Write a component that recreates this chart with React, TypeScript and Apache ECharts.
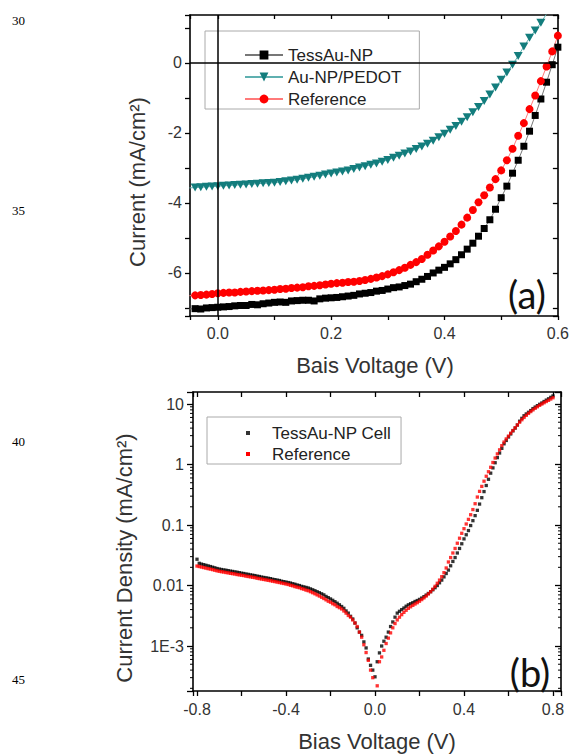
import React, { useEffect, useRef } from "react";
import * as echarts from "echarts";

// ---------- Panel (a): J–V curves ----------
const voltageA = [
  -0.05, -0.04, -0.03, -0.02, -0.01, 0.0, 0.01, 0.02, 0.03, 0.04, 0.05, 0.06, 0.07, 0.08, 0.09, 0.1,
  0.11, 0.12, 0.13, 0.14, 0.15, 0.16, 0.17, 0.18, 0.19, 0.2, 0.21, 0.22, 0.23, 0.24, 0.25, 0.26,
  0.27, 0.28, 0.29, 0.3, 0.31, 0.32, 0.33, 0.34, 0.35, 0.36, 0.37, 0.38, 0.39, 0.4, 0.41, 0.42,
  0.43, 0.44, 0.45, 0.46, 0.47, 0.48, 0.49, 0.5, 0.51, 0.52, 0.53, 0.54, 0.55, 0.56, 0.57, 0.58,
  0.59, 0.6,
];
const tessAuA = [
  -7.03, -7.02, -7.03, -7.0, -6.99, -6.98, -6.97, -6.96, -6.94, -6.93, -6.93, -6.9, -6.91, -6.88, -6.86, -6.84,
  -6.83, -6.84, -6.8, -6.79, -6.78, -6.78, -6.8, -6.74, -6.72, -6.71, -6.7, -6.68, -6.66, -6.64, -6.6, -6.58,
  -6.56, -6.52, -6.5, -6.46, -6.42, -6.4, -6.36, -6.32, -6.25, -6.18, -6.1, -6.0, -5.92, -5.84, -5.74, -5.62,
  -5.48, -5.32, -5.15, -4.95, -4.73, -4.48, -4.18, -3.85, -3.52, -3.15, -2.78, -2.38, -1.95, -1.5, -1.03, -0.55,
  -0.05, 0.45,
];
const auNpPedotA = [
  -3.57, -3.56, -3.55, -3.54, -3.53, -3.52, -3.51, -3.5, -3.49, -3.48, -3.47, -3.46, -3.45, -3.44, -3.43, -3.42,
  -3.4, -3.38, -3.36, -3.34, -3.31, -3.28, -3.25, -3.22, -3.19, -3.16, -3.13, -3.1, -3.07, -3.03, -2.99, -2.95,
  -2.91, -2.87, -2.82, -2.77, -2.71, -2.65, -2.59, -2.53, -2.46, -2.39, -2.31, -2.22, -2.12, -2.02, -1.91, -1.8,
  -1.68, -1.55, -1.41, -1.26, -1.09, -0.9, -0.7, -0.48, -0.27, -0.05, 0.2, 0.47, 0.72, 0.93, 1.15, 1.4,
  null, null,
];
const referenceA = [
  -6.65, -6.64, -6.63, -6.62, -6.6, -6.58, -6.57, -6.56, -6.56, -6.54, -6.53, -6.52, -6.51, -6.5, -6.49, -6.48,
  -6.46, -6.45, -6.43, -6.42, -6.41, -6.38, -6.37, -6.35, -6.33, -6.31, -6.29, -6.28, -6.26, -6.25, -6.23, -6.2,
  -6.17, -6.13, -6.09, -6.04, -5.98, -5.92, -5.85, -5.77, -5.69, -5.6, -5.48, -5.36, -5.24, -5.11, -4.96, -4.8,
  -4.62, -4.42, -4.2, -3.98, -3.78, -3.56, -3.32, -3.07, -2.78, -2.45, -2.08, -1.72, -1.32, -0.93, -0.52, -0.1,
  0.33, 0.78,
];

// ---------- Panel (b): log |J| vs V ----------
const voltageB = [
  -0.8, -0.79, -0.78, -0.77, -0.76, -0.75, -0.74, -0.73, -0.72, -0.71, -0.7, -0.69, -0.68, -0.67, -0.66, -0.65,
  -0.64, -0.63, -0.62, -0.61, -0.6, -0.59, -0.58, -0.57, -0.56, -0.55, -0.54, -0.53, -0.52, -0.51, -0.5, -0.49,
  -0.48, -0.47, -0.46, -0.45, -0.44, -0.43, -0.42, -0.41, -0.4, -0.39, -0.38, -0.37, -0.36, -0.35, -0.34, -0.33,
  -0.32, -0.31, -0.3, -0.29, -0.28, -0.27, -0.26, -0.25, -0.24, -0.23, -0.22, -0.21, -0.2, -0.19, -0.18, -0.17,
  -0.16, -0.15, -0.14, -0.13, -0.12, -0.11, -0.1, -0.09, -0.08, -0.07, -0.06, -0.05, -0.04, -0.03, -0.02, -0.01,
  0.0,
  0.01, 0.02, 0.03, 0.04, 0.05, 0.06, 0.07, 0.08, 0.09, 0.1, 0.11, 0.12, 0.13, 0.14, 0.15, 0.16,
  0.17, 0.18, 0.19, 0.2, 0.21, 0.22, 0.23, 0.24, 0.25, 0.26, 0.27, 0.28, 0.29, 0.3, 0.31, 0.32,
  0.33, 0.34, 0.35, 0.36, 0.37, 0.38, 0.39, 0.4, 0.41, 0.42, 0.43, 0.44, 0.45, 0.46, 0.47, 0.48,
  0.49, 0.5, 0.51, 0.52, 0.53, 0.54, 0.55, 0.56, 0.57, 0.58, 0.59, 0.6, 0.61, 0.62, 0.63, 0.64,
  0.65, 0.66, 0.67, 0.68, 0.69, 0.7, 0.71, 0.72, 0.73, 0.74, 0.75, 0.76, 0.77, 0.78, 0.79, 0.8,
];
const tessAuCellB = [
  0.0272, 0.0233, 0.0226, 0.0221, 0.0216, 0.0211, 0.0206, 0.0201, 0.0196, 0.0191, 0.0187, 0.0184, 0.0181, 0.0179, 0.0176, 0.0173,
  0.0171, 0.0168, 0.0166, 0.0163, 0.016, 0.0158, 0.0155, 0.0153, 0.015, 0.0148, 0.0146, 0.0143, 0.0141, 0.0138, 0.0136, 0.0134,
  0.0132, 0.013, 0.0127, 0.0125, 0.0123, 0.0121, 0.0118, 0.0116, 0.0114, 0.0112, 0.011, 0.0107, 0.0105, 0.0102, 0.01, 0.0097,
  0.0095, 0.0093, 0.0091, 0.0088, 0.0085, 0.0082, 0.0079, 0.0076, 0.0073, 0.007, 0.0066, 0.0063, 0.006, 0.0057, 0.0054, 0.0051,
  0.0048, 0.0045, 0.0042, 0.0038, 0.0035, 0.0031, 0.0028, 0.0024, 0.002, 0.0017, 0.0015, 0.00117, 0.00093, 0.00061, 0.00048, 0.0004,
  0.00031,
  0.00055, 0.00077, 0.001, 0.0012, 0.0014, 0.0017, 0.0021, 0.0025, 0.003, 0.0035, 0.00375, 0.004, 0.00425, 0.00455, 0.0048, 0.005,
  0.0052, 0.00545, 0.00565, 0.0059, 0.0062, 0.00655, 0.00695, 0.0074, 0.0079, 0.0085, 0.0092, 0.01, 0.0111, 0.0123, 0.0139, 0.0158,
  0.018, 0.0212, 0.025, 0.029, 0.0345, 0.041, 0.049, 0.059, 0.069, 0.081, 0.098, 0.118, 0.143, 0.175, 0.222, 0.283,
  0.357, 0.45, 0.57, 0.72, 0.88, 1.07, 1.3, 1.55, 1.85, 2.2, 2.5, 2.85, 3.2, 3.6, 4.0, 4.5,
  5.2, 5.8, 6.4, 6.85, 7.3, 7.8, 8.4, 8.9, 9.4, 9.9, 10.4, 11.0, 11.6, 12.2, 12.9, 13.6,
];
const referenceB = [
  0.021, 0.0206, 0.0202, 0.0198, 0.0194, 0.019, 0.0187, 0.0183, 0.0179, 0.0175, 0.0172, 0.0169, 0.0167, 0.0164, 0.0162, 0.0159,
  0.0157, 0.0155, 0.0152, 0.015, 0.0148, 0.0146, 0.0143, 0.0141, 0.0139, 0.0137, 0.0135, 0.0132, 0.013, 0.0128, 0.0126, 0.0124,
  0.0122, 0.012, 0.0118, 0.0116, 0.0114, 0.0112, 0.011, 0.0108, 0.0106, 0.0104, 0.0101, 0.0099, 0.0096, 0.0094, 0.0092, 0.0089,
  0.0087, 0.0084, 0.0082, 0.0079, 0.0076, 0.0073, 0.007, 0.0067, 0.0064, 0.0061, 0.0058, 0.0055, 0.0053, 0.005, 0.0048, 0.0045,
  0.0043, 0.0041, 0.0038, 0.0035, 0.0032, 0.003, 0.0027, 0.0024, 0.0021, 0.0017, 0.0014, 0.00105, 0.00078, 0.00058, 0.0004, 0.0003,
  null,
  0.00022, 0.00055, 0.00066, 0.00085, 0.0011, 0.00135, 0.00165, 0.002, 0.00235, 0.0027, 0.003, 0.0033, 0.0036, 0.0039, 0.0042, 0.00445,
  0.0047, 0.00495, 0.0052, 0.0055, 0.00585, 0.00625, 0.0067, 0.00725, 0.0079, 0.0087, 0.0097, 0.0109, 0.0123, 0.014, 0.0163, 0.0195,
  0.0245, 0.029, 0.0345, 0.041, 0.05, 0.0605, 0.073, 0.087, 0.104, 0.124, 0.148, 0.18, 0.225, 0.29, 0.36, 0.435,
  0.53, 0.64, 0.76, 0.9, 1.08, 1.28, 1.5, 1.75, 2.05, 2.35, 2.65, 2.95, 3.3, 3.65, 4.05, 4.5,
  5.0, 5.5, 6.0, 6.5, 7.0, 7.5, 8.0, 8.5, 9.0, 9.5, 10.0, 10.5, 11.0, 11.5, 12.1, 12.7,
];
const logMinorTicks = [
  0.0002, 0.0003, 0.0004, 0.0005, 0.0006, 0.0007, 0.0008, 0.0009,
  0.002, 0.003, 0.004, 0.005, 0.006, 0.007, 0.008, 0.009,
  0.02, 0.03, 0.04, 0.05, 0.06, 0.07, 0.08, 0.09,
  0.2, 0.3, 0.4, 0.5, 0.6, 0.7, 0.8, 0.9,
  2, 3, 4, 5, 6, 7, 8, 9,
];
const logLabels: Record<string, string> = { "-3": "1E-3", "-2": "0.01", "-1": "0.1", "0": "1", "1": "10" };
const legendA = ["TessAu-NP", "Au-NP/PEDOT", "Reference"];
const legendB = ["TessAu-NP Cell", "Reference"];
const pageNumbers = ["30", "35", "40", "45"];

const X_MIN_A = -0.049, X_MAX_A = 0.6, Y_MIN_A = -7.23, Y_MAX_A = 1.37;
const X_MIN_B = -0.818, X_MAX_B = 0.836, Y_MIN_B = 1.806e-4, Y_MAX_B = 15.8;

const SANS = '"Liberation Sans", Arial, Helvetica, sans-serif';
const SERIF = '"Liberation Serif", "Times New Roman", serif';

function onGrid(v: number, step: number) {
  const k = Math.round(v / step);
  return Math.abs(v / step - k) < 1e-6 ? k : null;
}
const fmtXA = (v: number) => {
  const k = onGrid(v, 0.1);
  return k !== null && k % 2 === 0 ? (k / 10).toFixed(1) : "";
};
const fmtYA = (v: number) => {
  const k = onGrid(v, 1);
  return k !== null && k % 2 === 0 ? String(k) : "";
};
const fmtXB = (v: number) => {
  const k = onGrid(v, 0.1);
  return k !== null && k % 4 === 0 ? (k / 10).toFixed(1) : "";
};
const fmtYB = (v: number) => {
  const e = Math.log10(v);
  const r = Math.round(e);
  if (Math.abs(e - r) > 1e-6) return "";
  return logLabels[String(r)] ?? "";
};

function axisBase(opts: any) {
  return {
    splitLine: { show: false },
    axisLine: { show: true, onZero: false, lineStyle: { color: "#000", width: 1.6 } },
    ...opts,
  };
}

export default function App() {
  const ref = useRef<HTMLDivElement>(null);

  useEffect(() => {
    if (!ref.current) return;
    const chart = echarts.init(ref.current, undefined, { renderer: "svg" });

    const labelStyle = { color: "#333", fontSize: 16, fontFamily: SANS };
    const tickStyle = { color: "#000", width: 1.3 };

    const pairs = (xs: number[], ys: (number | null)[]) =>
      xs.map((x, i) => [x, ys[i]]);
    const pairsPos = (xs: number[], ys: (number | null)[]) =>
      xs.map((x, i) => [x, ys[i]]).filter((p) => p[1] !== null);

    const option: any = {
      animation: false,
      backgroundColor: "#fff",
      grid: [
        { left: 190, top: 15, width: 369, height: 301 },
        { left: 193, top: 392, width: 368, height: 299 },
      ],
      xAxis: [
        axisBase({
          gridIndex: 0, type: "value", min: X_MIN_A, max: X_MAX_A, splitNumber: 7, position: "bottom",
          axisTick: { show: true, inside: false, length: 4, lineStyle: tickStyle },
          axisLabel: { ...labelStyle, formatter: fmtXA, margin: 9 },
        }),
        axisBase({
          gridIndex: 0, type: "value", min: X_MIN_A, max: X_MAX_A, splitNumber: 7, position: "top",
          axisTick: { show: true, inside: true, length: 4, lineStyle: tickStyle },
          axisLabel: { show: false },
        }),
        axisBase({
          gridIndex: 1, type: "value", min: X_MIN_B, max: X_MAX_B, splitNumber: 8, position: "bottom",
          axisTick: { show: true, inside: false, length: 5, lineStyle: tickStyle },
          axisLabel: { ...labelStyle, formatter: fmtXB, margin: 10 },
        }),
        axisBase({
          gridIndex: 1, type: "value", min: X_MIN_B, max: X_MAX_B, splitNumber: 8, position: "top",
          axisTick: { show: true, inside: true, length: 5, lineStyle: tickStyle },
          axisLabel: { show: false },
        }),
      ],
      yAxis: [
        axisBase({
          gridIndex: 0, type: "value", min: Y_MIN_A, max: Y_MAX_A, splitNumber: 9, position: "left",
          axisTick: { show: true, inside: false, length: 5, lineStyle: tickStyle },
          axisLabel: { ...labelStyle, formatter: fmtYA, margin: 8 },
        }),
        axisBase({
          gridIndex: 0, type: "value", min: Y_MIN_A, max: Y_MAX_A, splitNumber: 9, position: "right",
          axisTick: { show: true, inside: true, length: 5, lineStyle: tickStyle },
          axisLabel: { show: false },
        }),
        axisBase({
          gridIndex: 1, type: "log", logBase: 10, min: Y_MIN_B, max: Y_MAX_B, position: "left",
          axisTick: { show: true, inside: false, length: 6, lineStyle: tickStyle },
          axisLabel: { ...labelStyle, formatter: fmtYB, margin: 9 },
        }),
        axisBase({
          gridIndex: 1, type: "log", logBase: 10, min: Y_MIN_B, max: Y_MAX_B, position: "right",
          axisTick: { show: true, inside: true, length: 6, lineStyle: tickStyle },
          axisLabel: { show: false },
        }),
      ],
      legend: [
        {
          data: legendA.map((n) => ({ name: n })),
          orient: "vertical", left: 205, top: 31,
          itemWidth: 38, itemHeight: 11, itemGap: 4,
          padding: [15, 18, 1, 39],
          backgroundColor: "#fff", borderColor: "#aaa", borderWidth: 1, borderRadius: 0,
          selectedMode: false,
          textStyle: { fontSize: 17, fontFamily: SANS, color: "#222", lineHeight: 18 },
        },
        {
          data: legendB.map((n, i) => ({
            name: n, icon: "rect",
            itemStyle: { color: i === 0 ? "#000" : "#f00", borderWidth: 0 },
          })),
          orient: "vertical", left: 207, top: 417,
          itemWidth: 4, itemHeight: 4, itemGap: 3,
          padding: [7, 10, 1, 39],
          backgroundColor: "#fff", borderColor: "#aaa", borderWidth: 1, borderRadius: 0,
          selectedMode: false,
          textStyle: { fontSize: 17, fontFamily: SANS, color: "#222", lineHeight: 18, padding: [0, 0, 0, 17] },
        },
      ],
      series: [
        {
          name: legendA[0], type: "line", xAxisIndex: 0, yAxisIndex: 0,
          data: pairs(voltageA, tessAuA),
          symbol: "rect", symbolSize: 7, showAllSymbol: true,
          itemStyle: { color: "#000" }, lineStyle: { color: "#777", width: 1 },
          markLine: {
            silent: true, symbol: ["none", "none"], label: { show: false },
            lineStyle: { color: "#000", width: 1.5, type: "solid" },
            data: [{ xAxis: 0 }, { yAxis: 0 }],
          },
        },
        {
          name: legendA[1], type: "line", xAxisIndex: 0, yAxisIndex: 0,
          data: pairs(voltageA, auNpPedotA),
          symbol: "path://M0,0 L10,0 L5,9 Z", symbolSize: [9, 8], showAllSymbol: true,
          itemStyle: { color: "#137d7d" }, lineStyle: { color: "#5fb0b0", width: 1 },
        },
        {
          name: legendA[2], type: "line", xAxisIndex: 0, yAxisIndex: 0,
          data: pairs(voltageA, referenceA),
          symbol: "circle", symbolSize: 8, showAllSymbol: true,
          itemStyle: { color: "#ff0000" }, lineStyle: { color: "#ff7a7a", width: 1 },
        },
        {
          name: legendB[0], type: "scatter", xAxisIndex: 2, yAxisIndex: 2,
          data: pairsPos(voltageB, tessAuCellB),
          symbol: "rect", symbolSize: 3.3, itemStyle: { color: "#000" },
        },
        {
          name: legendB[1], type: "scatter", xAxisIndex: 2, yAxisIndex: 2,
          data: pairsPos(voltageB, referenceB),
          symbol: "rect", symbolSize: 3.3, itemStyle: { color: "#ff0000" },
        },
        {
          type: "custom", xAxisIndex: 2, yAxisIndex: 2, silent: true, clip: false,
          data: logMinorTicks.map((v) => [X_MIN_B, v]),
          renderItem: (_p: any, api: any) => {
            const v = api.value(1);
            const l = api.coord([X_MIN_B, v]);
            const r = api.coord([X_MAX_B, v]);
            return {
              type: "group",
              children: [
                { type: "line", shape: { x1: l[0] - 3, y1: l[1], x2: l[0], y2: l[1] }, style: { stroke: "#000", lineWidth: 1 } },
                { type: "line", shape: { x1: r[0] - 3, y1: r[1], x2: r[0], y2: r[1] }, style: { stroke: "#000", lineWidth: 1 } },
              ],
            };
          },
        },
      ],
      graphic: [
        ...pageNumbers.map((t, i) => ({
          type: "text", x: 12, y: [20, 210, 441, 679][i],
          style: { text: t, font: `13px ${SERIF}`, fill: "#000", align: "left", verticalAlign: "middle" },
        })),
        {
          type: "text", x: 137, y: 182, rotation: Math.PI / 2,
          style: { text: "Current (mA/cm²)", font: `22px ${SANS}`, fill: "#333", align: "center", verticalAlign: "middle" },
        },
        {
          type: "text", x: 375, y: 365,
          style: { text: "Bais Voltage (V)", font: `22px ${SANS}`, fill: "#333", align: "center", verticalAlign: "middle" },
        },
        {
          type: "text", x: 124, y: 558, rotation: Math.PI / 2,
          style: { text: "Current Density (mA/cm²)", font: `22px ${SANS}`, fill: "#333", align: "center", verticalAlign: "middle" },
        },
        {
          type: "text", x: 377, y: 741,
          style: { text: "Bias Voltage (V)", font: `22px ${SANS}`, fill: "#333", align: "center", verticalAlign: "middle" },
        },
        {
          type: "text", x: 527, y: 294, z: 10,
          style: { text: "(a)", font: `38px Lato, "Open Sans", sans-serif`, fill: "#111", align: "center", verticalAlign: "middle" },
        },
        {
          type: "text", x: 530, y: 672, z: 10,
          style: { text: "(b)", font: `38px Lato, "Open Sans", sans-serif`, fill: "#111", align: "center", verticalAlign: "middle" },
        },
      ],
    };

    chart.setOption(option);
    return () => chart.dispose();
  }, []);

  return (
    <div
      ref={ref}
      style={{ position: "absolute", left: 0, top: 0, width: 572, height: 754, background: "#fff" }}
    />
  );
}
